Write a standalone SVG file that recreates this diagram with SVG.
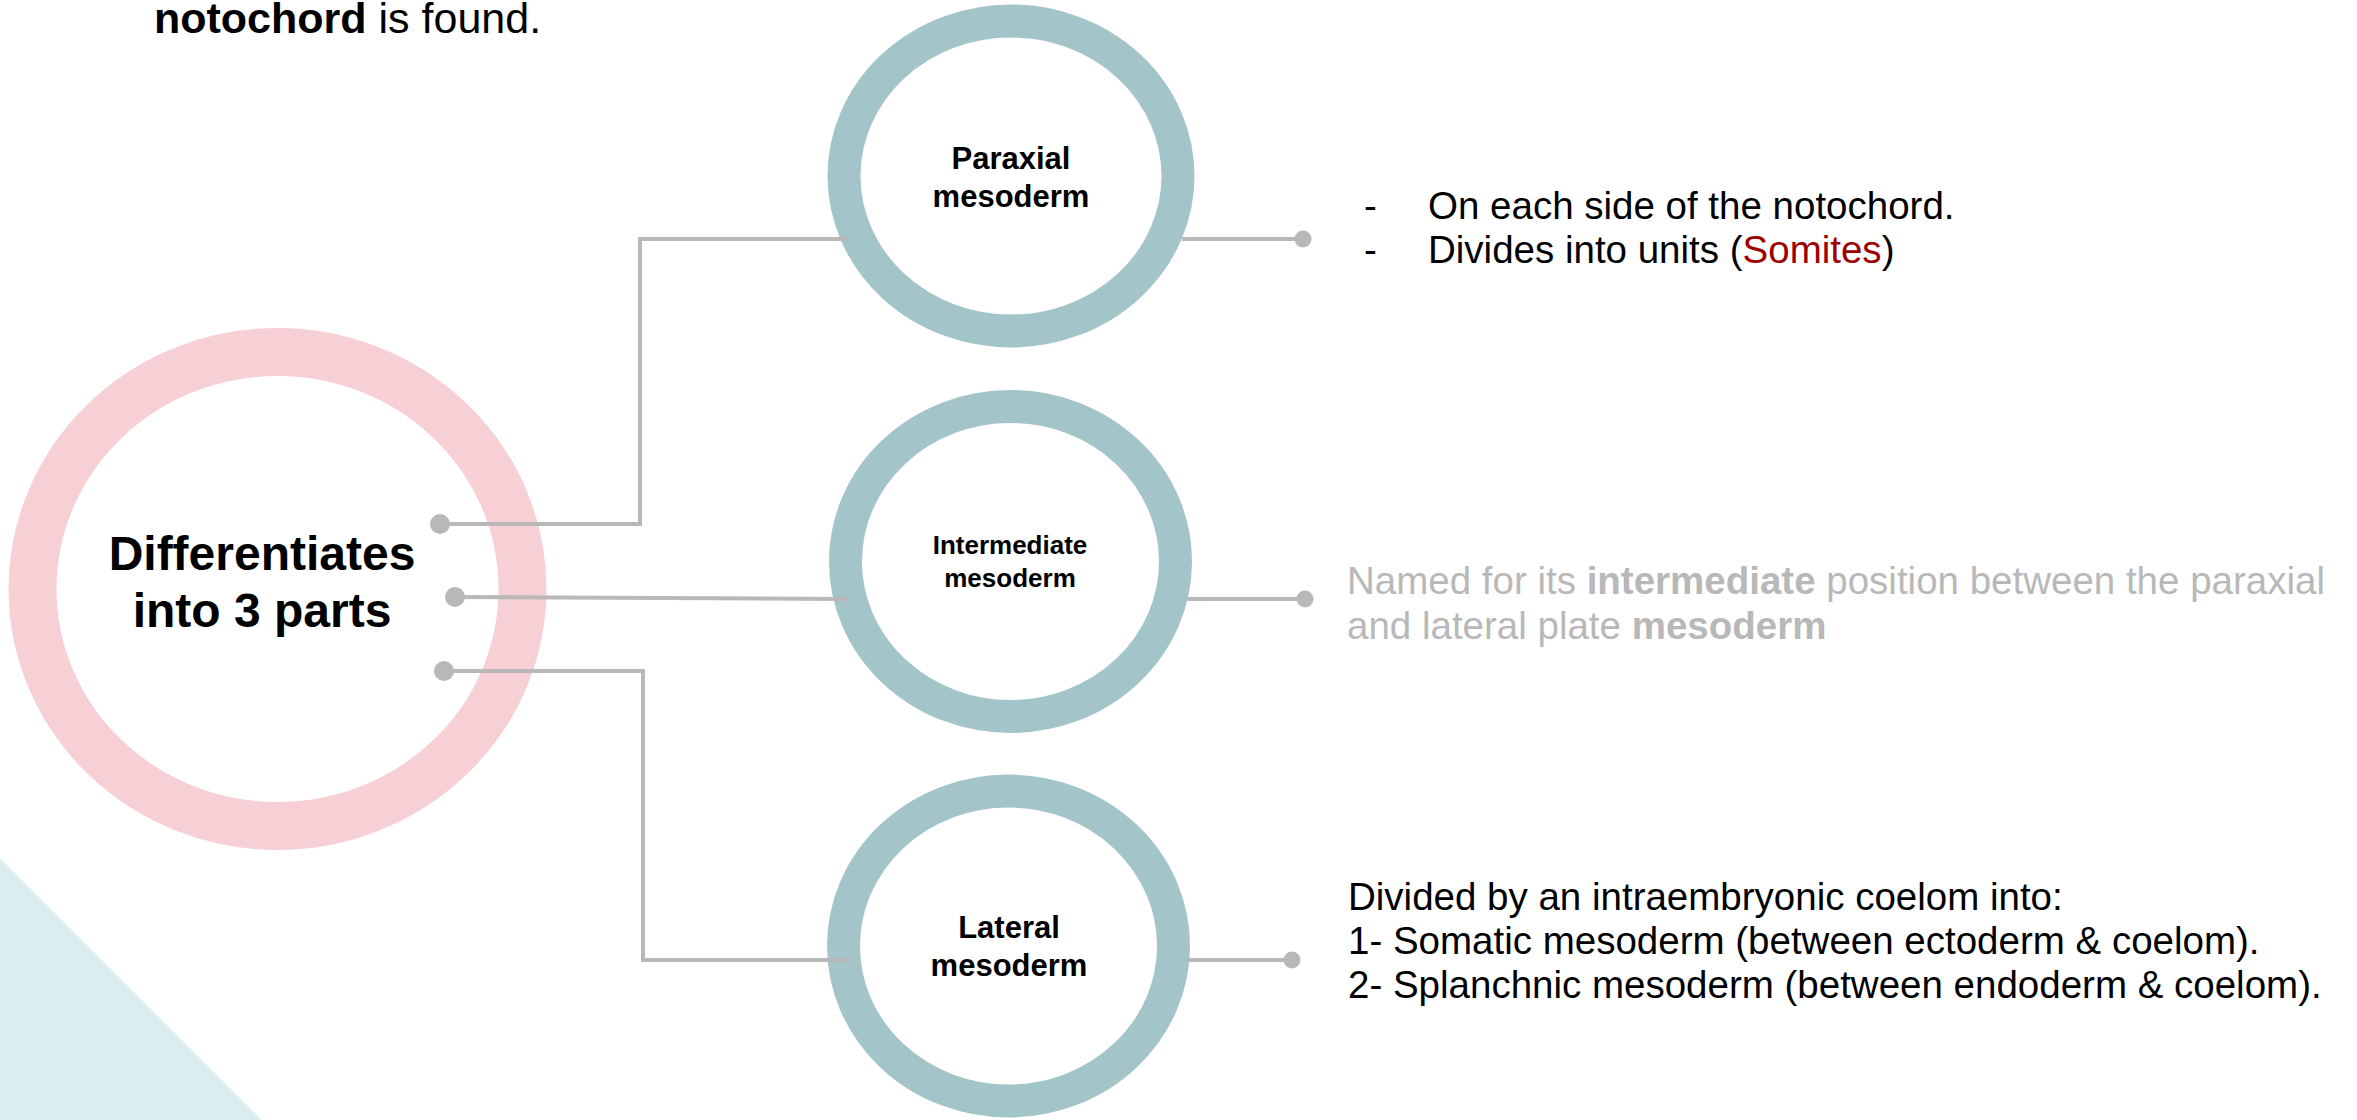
<svg xmlns="http://www.w3.org/2000/svg" width="2357" height="1120" viewBox="0 0 2357 1120">
<style>
.ring{fill:none;stroke:#a3c4c9;stroke-width:33}
.pink{fill:none;stroke:#f7d0d6;stroke-width:48}
.lbl{font-family:"Liberation Sans",Arial,sans-serif;font-weight:bold;fill:#000;text-anchor:middle}
.body{font-family:"Liberation Sans",Arial,sans-serif;font-size:38.5px;fill:#000}
.gray{fill:#b8b8b8}
.b{font-weight:bold}
.red{fill:#9e0000}
.con{fill:none;stroke:#b8b8b8;stroke-width:4}
.dot{fill:#b8b8b8}
</style>
<rect width="2357" height="1120" fill="#fff"/>
<polygon points="0,858 262,1120 0,1120" fill="#dcedef"/>
<text class="body" x="154" y="33" style="font-size:43px"><tspan class="b">notochord</tspan> is found.</text>

<g id="node-main">
<ellipse class="pink" cx="277.5" cy="589" rx="245" ry="237"/>
<text class="lbl" x="262" y="570" font-size="48">Differentiates</text>
<text class="lbl" x="262" y="627" font-size="48">into 3 parts</text>
</g>

<g id="node-paraxial">
<ellipse class="ring" cx="1011" cy="176" rx="167" ry="155"/>
<text class="lbl" x="1011" y="169" font-size="31">Paraxial</text>
<text class="lbl" x="1011" y="207" font-size="31">mesoderm</text>
</g>

<g id="node-intermediate">
<ellipse class="ring" cx="1010.5" cy="561.5" rx="165" ry="155"/>
<text class="lbl" x="1010" y="554" font-size="26">Intermediate</text>
<text class="lbl" x="1010" y="587" font-size="26">mesoderm</text>
</g>

<g id="node-lateral">
<ellipse class="ring" cx="1008.5" cy="946" rx="165" ry="155"/>
<text class="lbl" x="1009" y="938" font-size="31">Lateral</text>
<text class="lbl" x="1009" y="976" font-size="31">mesoderm</text>
</g>

<g id="connectors">
<polyline class="con" points="440,524 640,524 640,239 848,239"/>
<polyline class="con" points="455,597 848,599"/>
<polyline class="con" points="444,671 643,671 643,960 852,960"/>
<line class="con" x1="1182" y1="239" x2="1303" y2="239"/>
<line class="con" x1="1187" y1="599" x2="1305" y2="599"/>
<line class="con" x1="1188" y1="960" x2="1292" y2="960"/>
<circle class="dot" cx="440" cy="524" r="10"/>
<circle class="dot" cx="455" cy="597" r="10"/>
<circle class="dot" cx="444" cy="671" r="10"/>
<circle class="dot" cx="1303" cy="239" r="8.5"/>
<circle class="dot" cx="1305" cy="599" r="8.5"/>
<circle class="dot" cx="1292" cy="960" r="8.5"/>
</g>

<g id="text-paraxial">
<text class="body" x="1364" y="219">-</text>
<text class="body" x="1428" y="219">On each side of the notochord.</text>
<text class="body" x="1364" y="263">-</text>
<text class="body" x="1428" y="263">Divides into units (<tspan class="red">Somites</tspan>)</text>
</g>

<g id="text-intermediate">
<text class="body gray" x="1347" y="594">Named for its <tspan class="b">intermediate</tspan> position between the paraxial</text>
<text class="body gray" x="1347" y="639">and lateral plate <tspan class="b">mesoderm</tspan></text>
</g>

<g id="text-lateral">
<text class="body" x="1348" y="910">Divided by an intraembryonic coelom into:</text>
<text class="body" x="1348" y="954">1- Somatic mesoderm (between ectoderm &amp; coelom).</text>
<text class="body" x="1348" y="998">2- Splanchnic mesoderm (between endoderm &amp; coelom).</text>
</g>
</svg>
